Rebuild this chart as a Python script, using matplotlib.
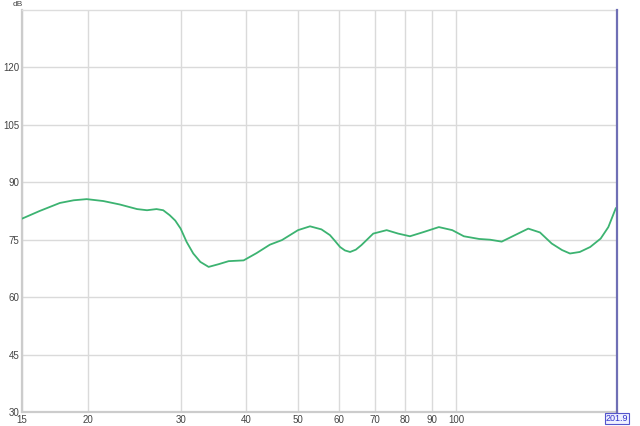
import matplotlib.pyplot as plt

plt.rcParams['font.family'] = ['Liberation Sans', 'DejaVu Sans']

# Frequency response (Hz, dB)
freq = [15.0, 16.2, 17.7, 18.8, 19.9, 21.4, 23.0, 24.8, 25.9, 27.0, 27.8, 28.6,
        29.3, 30.0, 30.8, 31.7, 32.7, 33.9, 35.4, 37.0, 39.5, 41.8, 44.3, 46.7,
        50.1, 52.8, 55.5, 57.6, 58.7, 60.2, 61.5, 62.9, 64.5, 66.1, 69.6, 73.8,
        77.6, 81.7, 86.7, 92.7, 98.3, 103.4, 110.5, 116.0, 122.0, 128.4, 137.0,
        144.2, 151.8, 158.8, 164.4, 171.6, 179.6, 188.0, 194.4, 200.8]
spl = [80.5, 82.5, 84.6, 85.3, 85.6, 85.1, 84.2, 83.0, 82.7, 83.0, 82.7, 81.4,
       80.0, 77.9, 74.4, 71.4, 69.2, 67.9, 68.6, 69.4, 69.6, 71.5, 73.7, 74.9,
       77.5, 78.5, 77.7, 76.2, 74.9, 73.1, 72.2, 71.8, 72.4, 73.6, 76.6, 77.5,
       76.6, 75.9, 77.0, 78.3, 77.5, 75.9, 75.2, 75.0, 74.5, 76.0, 77.9,
       76.9, 74.0, 72.3, 71.4, 71.8, 73.1, 75.3, 78.3, 83.2]

x_ticks = [15, 20, 30, 40, 50, 60, 70, 80, 90, 100]
y_ticks = [30, 45, 60, 75, 90, 105, 120]
cursor = 201.9

fig = plt.figure(figsize=(6.4, 4.26), dpi=100)
ax = fig.add_axes([22 / 640, 1 - 412 / 426, 595 / 640, 402 / 426])

ax.plot(freq, spl, color='#3cb371', lw=1.3, zorder=3)

ax.set_xscale('log')
ax.set_xlim(15, cursor)
ax.set_ylim(30, 135)
ax.set_xticks(x_ticks)
ax.set_xticklabels([str(t) for t in x_ticks])
ax.minorticks_off()
ax.set_yticks(y_ticks)
ax.tick_params(length=0, labelsize=7, labelcolor='#444444', pad=2)
ax.grid(True, color='#dadada', lw=1)

for s in ['left', 'bottom']:
    ax.spines[s].set_color('#cccccc')
    ax.spines[s].set_linewidth(1.6)
ax.spines['top'].set_color('#dddddd')
ax.spines['top'].set_linewidth(1)
ax.spines['right'].set_visible(False)

# cursor line and readout
ax.axvline(cursor, color='#6f6fb5', lw=1.6, clip_on=False, zorder=4)
ax.text(cursor, -0.006, '201.9', transform=ax.get_xaxis_transform(),
        ha='center', va='top', fontsize=6.5, color='#3333cc',
        bbox=dict(boxstyle='square,pad=0.12', fc='#eef0ff', ec='#5555cc', lw=0.8))

fig.text(13 / 640, 1 - 5 / 426, 'dB', fontsize=6, color='#444444', ha='left', va='center')

fig.savefig('out.png', dpi=100)
